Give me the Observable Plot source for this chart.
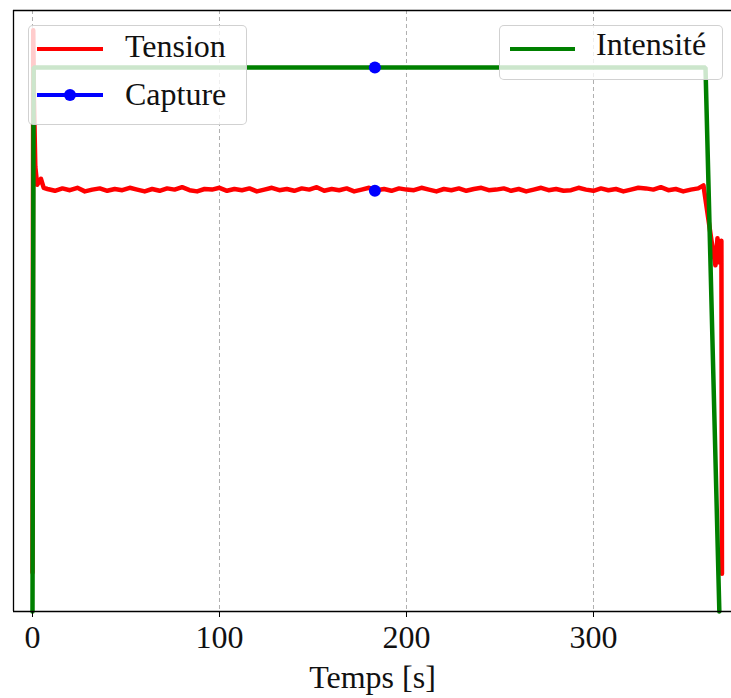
<!DOCTYPE html>
<html>
<head>
<meta charset="utf-8">
<script src="https://cdn.jsdelivr.net/npm/d3@7"></script>
<script src="https://cdn.jsdelivr.net/npm/@observablehq/plot@0.6"></script>
<style>
  html, body { margin: 0; padding: 0; background: #fff; }
  #wrap { position: relative; width: 731px; height: 698px; font-family: "Liberation Serif", serif; }
  .legend { position: absolute; background: rgba(255,255,255,0.8); border: 1px solid rgba(204,204,204,0.9); border-radius: 5px; box-sizing: border-box; }
  .legend svg { position: absolute; left: -1px; top: -1px; overflow: visible; }
  .legend text { font-family: "Liberation Serif", serif; font-size: 32px; fill: #111; }
</style>
</head>
<body>
<div id="wrap"></div>
<script>
// ---- data ----
const xTicks = [0, 100, 200, 300];
const xLabel = "Temps [s]";

const tensionT = [0, 0.4, 0.8, 1.5, 2.5, 4.5, 6,
  8,12,16,20,24,28,32,36,40,44,
  48,52,56,60,64,68,72,76,80,84,
  88,92,96,100,104,108,112,116,120,124,
  128,132,136,140,144,148,152,156,160,164,
  168,172,176,180,184,188,192,196,200,204,
  208,212,216,220,224,228,232,236,240,244,
  248,252,256,260,264,268,272,276,280,284,
  288,292,296,300,304,308,312,316,320,324,
  328,332,336,340,344,348,352,356,
  358.8, 361, 363.1, 365.2, 366.3, 367.3, 368.4, 368.7];
const tensionV = [6.5, 96.7, 85, 74, 71, 72, 70.5,
  70.3,70.0,70.4,70.1,70.5,69.9,70.2,70.4,70.0,70.3,
  70.1,70.5,70.2,69.9,70.3,70.0,70.4,70.2,70.6,70.1,
  69.9,70.3,70.2,70.5,70.0,70.3,70.1,70.4,69.9,70.2,
  70.5,70.1,70.3,70.0,70.4,70.2,70.6,70.0,70.3,70.1,
  70.4,69.9,70.2,70.5,70.1,70.3,70.0,70.4,70.2,70.1,
  70.5,70.2,69.9,70.3,70.1,70.4,70.0,70.3,70.5,70.1,
  70.2,70.4,70.0,70.3,69.9,70.2,70.5,70.1,70.3,70.0,
  70.1,70.5,70.2,70.0,70.4,70.1,70.3,69.9,70.2,70.5,
  70.4,70.2,70.6,70.1,70.3,69.9,70.2,70.4,
  70.9, 66.2, 61.7, 57.6, 62.1, 58.1, 61.7, 6.3];

const intensT = [0, 0.6, 359.9, 367.3];
const intensV = [0, 90.5, 90.5, 0];

const captureT = [183.1, 183.1];
const captureV = [90.5, 70.0];

const seriesNames = ["Tension", "Capture", "Intensité"];
const seriesColors = ["#ff0000", "#0000ff", "#008000"];

// ---- tables ----
const tension = tensionT.map((t, i) => ({t, v: tensionV[i]}));
const intens = intensT.map((t, i) => ({t, v: intensV[i]}));
const capture = captureT.map((t, i) => ({t, v: captureV[i]}));

const xDomain = [-10.16, 373.8];
const yDomain = [0, 100];

const chart = Plot.plot({
  width: 731,
  height: 698,
  marginLeft: 13,
  marginRight: 0,
  marginTop: 10,
  marginBottom: 87,
  style: {fontFamily: "Liberation Serif, serif", fontSize: "32px", color: "#111", background: "white"},
  x: {domain: xDomain},
  y: {domain: yDomain, axis: null},
  marks: [
    Plot.gridX(xTicks, {stroke: "#b0b0b0", strokeOpacity: 1, strokeDasharray: "4,3", strokeWidth: 1}),
    Plot.line(tension, {x: "t", y: "v", stroke: seriesColors[0], strokeWidth: 4.5, strokeLinejoin: "round"}),
    Plot.line(intens, {x: "t", y: "v", stroke: seriesColors[2], strokeWidth: 4.5, strokeLinejoin: "miter"}),
    Plot.dot(capture, {x: "t", y: "v", fill: seriesColors[1], r: 6, stroke: "none"}),
    Plot.ruleY([yDomain[0], yDomain[1]], {stroke: "#000", strokeWidth: 1.3}),
    Plot.ruleX([xDomain[0]], {stroke: "#000", strokeWidth: 1.3}),
    Plot.axisX({ticks: xTicks, tickSize: 6, tickPadding: 8, fontSize: 32, label: xLabel,
      labelAnchor: "center", labelArrow: "none", labelOffset: 76, stroke: "#000"})
  ]
});

const wrap = document.getElementById("wrap");
wrap.appendChild(chart);

// legends (layout only)
function legend(left, top, w, h, items) {
  const div = document.createElement("div");
  div.className = "legend";
  div.style.left = left + "px";
  div.style.top = top + "px";
  div.style.width = w + "px";
  div.style.height = h + "px";
  const ns = "http://www.w3.org/2000/svg";
  const svg = document.createElementNS(ns, "svg");
  svg.setAttribute("width", w);
  svg.setAttribute("height", h);
  for (const it of items) {
    const ln = document.createElementNS(ns, "line");
    ln.setAttribute("x1", it.x0); ln.setAttribute("x2", it.x1);
    ln.setAttribute("y1", it.ly); ln.setAttribute("y2", it.ly);
    ln.setAttribute("stroke", it.color); ln.setAttribute("stroke-width", 4);
    svg.appendChild(ln);
    if (it.dot) {
      const c = document.createElementNS(ns, "circle");
      c.setAttribute("cx", (it.x0 + it.x1) / 2); c.setAttribute("cy", it.ly);
      c.setAttribute("r", 6); c.setAttribute("fill", it.color);
      svg.appendChild(c);
    }
    const tx = document.createElementNS(ns, "text");
    tx.setAttribute("x", it.tx); tx.setAttribute("y", it.ty);
    tx.textContent = it.label;
    svg.appendChild(tx);
  }
  div.appendChild(svg);
  wrap.appendChild(div);
}
legend(28, 25, 219, 100, [
  {label: seriesNames[0], color: seriesColors[0], x0: 9, x1: 75, ly: 24, tx: 97, ty: 32},
  {label: seriesNames[1], color: seriesColors[1], x0: 9, x1: 75, ly: 70, tx: 97, ty: 80, dot: true}
]);
legend(499, 25, 224, 55, [
  {label: seriesNames[2], color: seriesColors[2], x0: 11, x1: 76, ly: 24, tx: 97, ty: 30}
]);
</script>
</body>
</html>
